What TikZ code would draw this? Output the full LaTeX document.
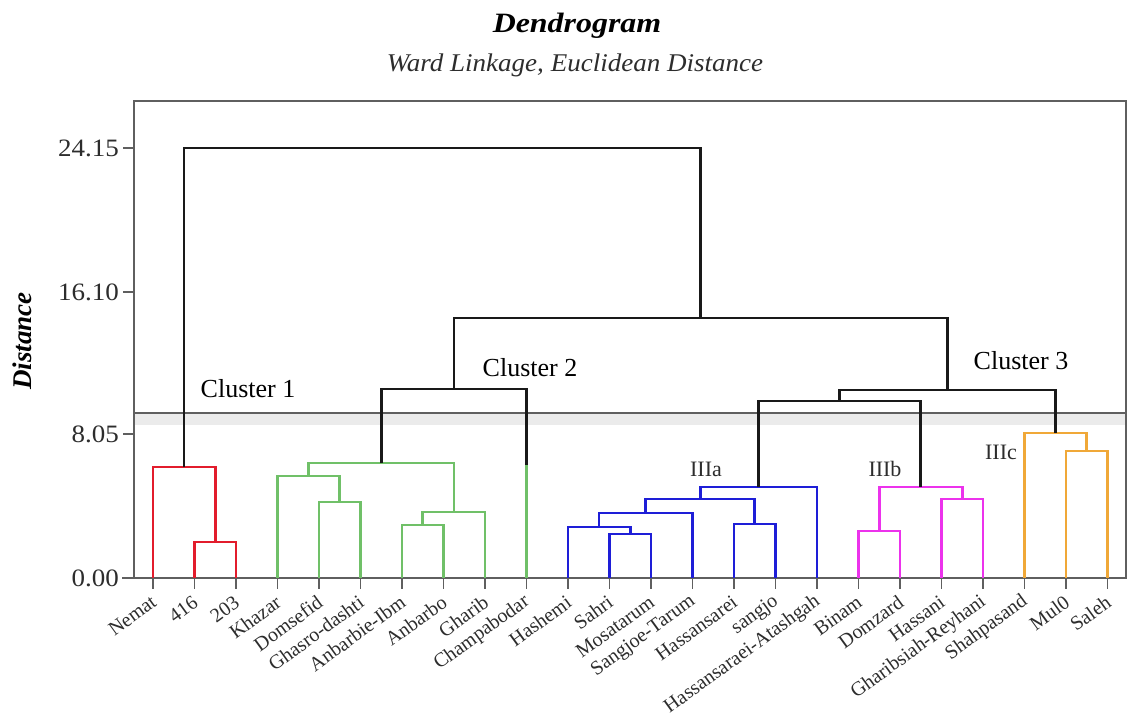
\documentclass[tikz,border=0pt]{standalone}
\usepackage{fontspec}
\setmainfont{Liberation Serif}
\definecolor{cRed}{RGB}{226,28,44}
\definecolor{cGreen}{RGB}{112,192,104}
\definecolor{cBlue}{RGB}{30,30,215}
\definecolor{cMag}{RGB}{236,50,236}
\definecolor{cOrange}{RGB}{240,168,56}
\definecolor{cBlack}{RGB}{25,25,25}
\definecolor{cFrame}{RGB}{95,95,95}
\definecolor{cText}{RGB}{45,45,45}
\begin{document}
\begin{tikzpicture}[x=1pt,y=-1pt,
  link/.style={line width=2.7pt, line join=miter},
  frameline/.style={cFrame, line width=1.5pt},
  leaf/.style={font=\fontsize{20}{22}\selectfont, rotate=36, anchor=east, text=cText, inner sep=0pt},
  ticklab/.style={font=\fontsize{25}{27}\selectfont, anchor=east, text=cText, inner sep=0pt, xscale=1.08},
  clab/.style={font=\fontsize{26}{28}\selectfont, text=black, inner sep=0pt},
  sublab/.style={font=\fontsize{22}{24}\selectfont, text=cText, inner sep=0pt}]
\useasboundingbox (0,0) rectangle (1127,719);
\fill[white] (0,0) rectangle (1127,719);
% titles
\node[font=\fontsize{28}{30}\selectfont\bfseries\itshape, anchor=base, xscale=1.14, inner sep=0pt] (title) at (577,33) {Dendrogram};
\node[font=\fontsize{25.5}{27}\selectfont\itshape, anchor=base, xscale=1.06, inner sep=0pt, text=cText] (subtitle) at (575,72) {Ward Linkage, Euclidean Distance};
\node[font=\fontsize{27}{29}\selectfont\bfseries\itshape, rotate=90, inner sep=0pt] (ylab) at (22,341) {Distance};
% frame
\fill[black!8] (134,414) rectangle (1126,425);
\draw[frameline] (134,101) rectangle (1126,578);
\draw[frameline] (134,413) -- (1127,413);
\draw[frameline] (122,578) -- (134,578);
% y ticks
\foreach \yy/\lab [count=\k] in {578/0.00,434/8.05,292/16.10,148/24.15}{
  \draw[frameline] (123,\yy) -- (134,\yy);
  \node[ticklab] (yt\k) at (119,\yy) {\lab};
}
% leaves
\foreach \nm [count=\i] in {Nemat,416,203,Khazar,Domsefid,Ghasro-dashti,Anbarbie-Ibm,Anbarbo,Gharib,Champabodar,Hashemi,Sahri,Mosatarum,Sangjoe-Tarum,Hassansarei,sangjo,Hassansaraei-Atashgah,Binam,Domzard,Hassani,Gharibsiah-Reyhani,Shahpasand,Mul0,Saleh}{
  \pgfmathsetmacro{\xx}{153+41.5*(\i-1)}
  \coordinate (L\i) at (\xx,578);
  \draw[frameline] (\xx,578) -- (\xx,589);
  \node[leaf] (lab\i) at (\xx+1,600) {\nm};
}
% merge points
\coordinate (r1) at (215.25,542);
\coordinate (r2) at (184.1,467);
\coordinate (g1) at (339.75,502);
\coordinate (g2) at (308.6,476);
\coordinate (g3) at (422.75,525);
\coordinate (g4) at (453.9,512);
\coordinate (g5) at (381.25,463);
\coordinate (s10) at (526.5,465);
\coordinate (c2) at (453.9,389);
\coordinate (b1) at (630.25,534);
\coordinate (b2) at (599.1,527);
\coordinate (b3) at (645.8,513);
\coordinate (b4) at (754.75,524);
\coordinate (b5) at (700.3,499);
\coordinate (b6) at (758.6,487);
\coordinate (p1) at (879.25,531);
\coordinate (p2) at (962.25,499);
\coordinate (p3) at (920.75,487);
\coordinate (o1) at (1086.75,451);
\coordinate (o2) at (1055.6,433);
\coordinate (k1) at (839.7,401);
\coordinate (k2) at (947.6,390);
\coordinate (k3) at (700.8,318);
\coordinate (top) at (442.4,148);
% cluster 1
\draw[link,cRed] (L2) |- (r1) -| (L3);
\draw[link,cRed] (L1) |- (r2) -| (r1);
% cluster 2
\draw[link,cGreen] (L5) |- (g1) -| (L6);
\draw[link,cGreen] (L4) |- (g2) -| (g1);
\draw[link,cGreen] (L7) |- (g3) -| (L8);
\draw[link,cGreen] (g3) |- (g4) -| (L9);
\draw[link,cGreen] (g2) |- (g5) -| (g4);
\draw[link,cGreen] (L10) -- (s10);
% IIIa
\draw[link,cBlue] (L12) |- (b1) -| (L13);
\draw[link,cBlue] (L11) |- (b2) -| (b1);
\draw[link,cBlue] (b2) |- (b3) -| (L14);
\draw[link,cBlue] (L15) |- (b4) -| (L16);
\draw[link,cBlue] (b3) |- (b5) -| (b4);
\draw[link,cBlue] (b5) |- (b6) -| (L17);
% IIIb
\draw[link,cMag] (L18) |- (p1) -| (L19);
\draw[link,cMag] (L20) |- (p2) -| (L21);
\draw[link,cMag] (p1) |- (p3) -| (p2);
% IIIc
\draw[link,cOrange] (L23) |- (o1) -| (L24);
\draw[link,cOrange] (L22) |- (o2) -| (o1);
% upper black links
\draw[link,cBlack] (g5) |- (c2) -| (s10);
\draw[link,cBlack] (b6) |- (k1) -| (p3);
\draw[link,cBlack] (k1) |- (k2) -| (o2);
\draw[link,cBlack] (c2) |- (k3) -| (k2);
\draw[link,cBlack] (r2) |- (top) -| (k3);
% cluster labels
\node[clab] (cl1) at (248,389) {Cluster 1};
\node[clab] (cl2) at (530,368) {Cluster 2};
\node[clab] (cl3) at (1021,361) {Cluster 3};
\node[sublab] (s3a) at (706,469) {IIIa};
\node[sublab] (s3b) at (885,469) {IIIb};
\node[sublab] (s3c) at (1001,452) {IIIc};
\end{tikzpicture}
\end{document}
